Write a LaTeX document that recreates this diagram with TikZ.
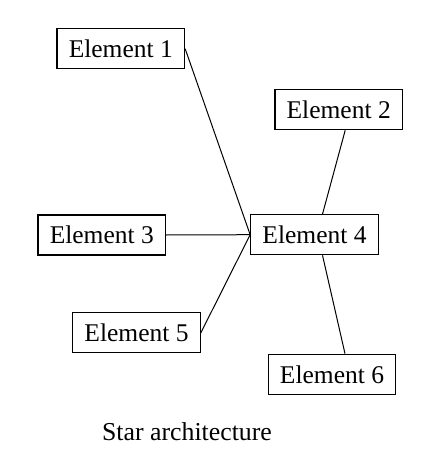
\documentclass[tikz,border=0pt]{standalone}
\usepackage{fontspec}
\setmainfont{Liberation Serif}
\tikzset{
  elem/.style={draw, line width=1.2pt, minimum width=127.5pt, minimum height=40pt, inner sep=0pt, font=\fontsize{25.5}{30}\selectfont},
  link/.style={line width=1pt}
}
\begin{document}
\begin{tikzpicture}[x=1pt,y=-1pt]
\useasboundingbox (0,0) rectangle (424,476);
\node[elem] (e1) at (120.8,48.7) {Element 1};
\node[elem] (e2) at (338.7,109.7) {Element 2};
\node[elem] (e3) at (101.8,235) {Element 3};
\node[elem] (e4) at (314.5,234.7) {Element 4};
\node[elem] (e5) at (136.5,332.8) {Element 5};
\node[elem] (e6) at (332,374.3) {Element 6};
\node[anchor=base, font=\fontsize{25.8}{30}\selectfont, inner sep=0pt] (cap) at (187,440.7) {Star architecture};
\draw[link] (e1.east) -- (e4.west);
\draw[link] (e3.east) -- (e4.west);
\draw[link] (e5.east) -- (e4.west);
\draw[link] ([xshift=6.5pt]e2.south) -- ([xshift=8pt]e4.north);
\draw[link] ([xshift=8pt]e4.south) -- ([xshift=13pt]e6.north);
\end{tikzpicture}
\end{document}
